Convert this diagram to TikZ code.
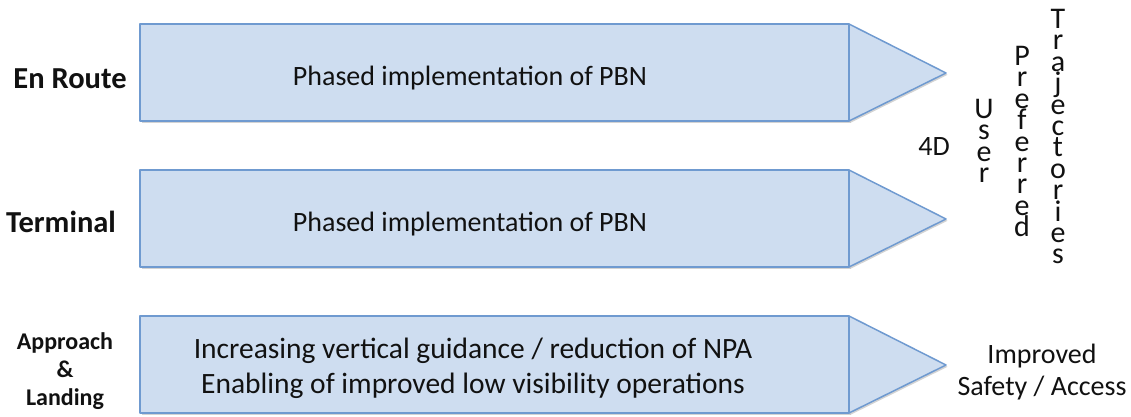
\documentclass[tikz,border=0pt]{standalone}
\usepackage{fontspec}
\setmainfont{Carlito}
\usetikzlibrary{calc,shadows}
\definecolor{bandfill}{HTML}{CEDDF0}
\definecolor{banddraw}{HTML}{6F9AD0}
\definecolor{txt}{HTML}{111111}
\begin{document}
\begin{tikzpicture}[x=1pt,y=-1pt,
  band/.style={draw=banddraw,fill=bandfill,line width=1.5pt,line join=round,
    drop shadow={shadow xshift=1.5pt,shadow yshift=-1.8pt,opacity=0.35}},
  bandtext/.style={font=\fontsize{28}{35}\selectfont,text=txt,align=center},
  widetext/.style={font=\fontsize{29.5}{35}\selectfont,text=txt,align=center},
  rowlabel/.style={font=\bfseries\fontsize{30.5}{32}\selectfont,text=txt},
  smalllabel/.style={font=\bfseries\fontsize{24}{28}\selectfont,text=txt,align=center},
  goal/.style={font=\fontsize{28}{32}\selectfont,text=txt,align=center},
  stack/.style={font=\fontsize{30}{21.4}\selectfont,text=txt,align=center,inner sep=0pt}]
  \useasboundingbox (0,0) rectangle (1131,416);

  % three bands: rectangle body plus triangular head
  \foreach \n/\yc in {er/73, tm/219, al/365}{
    \coordinate (\n-nw) at (140,\yc-49);
    \coordinate (\n-se) at (849,\yc+48);
    \coordinate (\n-tip) at (946,\yc);
    \path[band] (\n-nw) rectangle (\n-se);
    \path[band] (\n-se |- \n-nw) -- (\n-tip) -- (\n-se) -- cycle;
  }

  % band contents
  \node[bandtext] (t-er) at (470,78) {Phased implementation of PBN};
  \node[bandtext] (t-tm) at (470,224) {Phased implementation of PBN};
  \node[widetext] (t-al) at (473,368) {Increasing vertical guidance / reduction of NPA\\Enabling of improved low visibility operations};

  % row labels
  \node[rowlabel] (l-er) at (70,79) {En Route};
  \node[rowlabel] (l-tm) at (61,222) {Terminal};
  \node[smalllabel] (l-al) at (65,371) {Approach\\\&\\Landing};

  % outcomes
  \node[goal] (g-4d) at (934,147) {4D};
  \node[stack,anchor=north] (g-user) at (984,99) {U\\s\\e\\r};
  \node[stack,anchor=north] (g-pref) at (1022,46) {P\\r\\e\\f\\e\\r\\r\\e\\d};
  \node[stack,anchor=north] (g-traj) at (1058,9) {T\\r\\a\\j\\e\\c\\t\\o\\r\\i\\e\\s};
  \node[goal] (g-safe) at (1042,372) {Improved\\Safety / Access};
\end{tikzpicture}
\end{document}
